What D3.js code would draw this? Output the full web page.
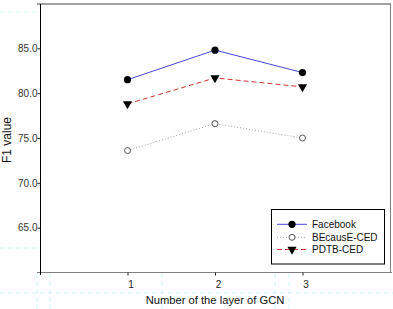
<!DOCTYPE html>
<html><head><meta charset="utf-8">
<script src="https://cdn.jsdelivr.net/npm/d3@7/dist/d3.min.js"></script>
<style>body{margin:0;background:#fff}svg{display:block}text{font-family:"Liberation Sans",Arial,sans-serif}</style>
</head><body><div id="c"></div>
<script>
const layers = [1, 2, 3];
const facebook = [81.5, 84.8, 82.3];
const because = [73.6, 76.6, 75.0];
const pdtb = [78.8, 81.7, 80.7];
const yTicks = [65, 70, 75, 80, 85];
const xTicks = [1, 2, 3];
const seriesNames = ["Facebook", "BEcausE-CED", "PDTB-CED"];

const W = 393, H = 309;
const svg = d3.select("#c").append("svg").attr("width", W).attr("height", H);

// faint ghost guide lines
const ghost = svg.append("g").attr("stroke", "#d4f3f6").attr("stroke-width", 1).attr("stroke-dasharray", "5,3");
[[0,12,37,12],[0,248,37,248],[0,293,393,293],[37,273,37,309],[50,273,50,309],[162,273,162,309],[275,273,275,309],[289,273,289,309]]
  .forEach(d => ghost.append("line").attr("x1", d[0]).attr("y1", d[1]).attr("x2", d[2]).attr("y2", d[3]));

const x = d3.scaleLinear().domain([0, 4]).range([40, 390]);
const y = d3.scaleLinear().domain([60, 90]).range([272.5, 3.5]);

// frame (top/right gray)
svg.append("line").attr("x1", 37).attr("x2", 391).attr("y1", 4).attr("y2", 4).attr("stroke", "#808080").attr("stroke-width", 1.5);
svg.append("line").attr("x1", 390.5).attr("x2", 390.5).attr("y1", 4).attr("y2", 273).attr("stroke", "#808080").attr("stroke-width", 1);

// x axis
const xa = svg.append("g").attr("transform", "translate(0,272.5)")
  .call(d3.axisBottom(x).tickValues(xTicks).tickSize(3).tickFormat(d3.format("d")));
xa.select(".domain").attr("stroke", "#808080").attr("d", "M37,0H392");
xa.selectAll(".tick line").attr("stroke", "#222");
xa.selectAll(".tick text").attr("font-size", 10).attr("fill", "#222").attr("dx", 3).attr("dy", "0.9em");

// y axis
const ya = svg.append("g").attr("transform", "translate(40.5,0)")
  .call(d3.axisLeft(y).tickValues(yTicks).tickSize(3).tickFormat(d3.format(".1f")));
ya.select(".domain").attr("stroke", "#000").attr("d", "M0,4V275");
ya.selectAll(".tick line").attr("stroke", "#222");
ya.selectAll(".tick text").attr("font-size", 10).attr("fill", "#333").attr("x", -3);

// titles
svg.append("text").attr("x", 215).attr("y", 304).attr("text-anchor", "middle").attr("font-size", 11.2).attr("fill", "#111").text("Number of the layer of GCN");
svg.append("text").attr("transform", "translate(11,140) rotate(-90)").attr("text-anchor", "middle").attr("font-size", 12).attr("fill", "#111").text("F1 value");

const line = d3.line().x((d, i) => x(layers[i])).y(d => y(d));
const styles = [
  {data: facebook, stroke: "#4646d8", dash: null, sym: "fcircle"},
  {data: because, stroke: "#a0a0a0", dash: "1,2", sym: "ocircle"},
  {data: pdtb, stroke: "#d03434", dash: "5,3", sym: "tri"}
];

function marker(g, type, cx, cy) {
  if (type === "fcircle") g.append("circle").attr("cx", cx).attr("cy", cy).attr("r", 3.6).attr("fill", "#000");
  else if (type === "ocircle") g.append("circle").attr("cx", cx).attr("cy", cy).attr("r", 3).attr("fill", "#fff").attr("stroke", "#555").attr("stroke-width", 1);
  else g.append("path").attr("d", d3.symbol(d3.symbolTriangle, 36)()).attr("transform", `translate(${cx},${cy}) rotate(180)`).attr("fill", "#000");
}

styles.forEach(s => {
  svg.append("path").datum(s.data).attr("d", line).attr("fill", "none").attr("stroke", s.stroke).attr("stroke-width", 1).attr("stroke-dasharray", s.dash);
  const g = svg.append("g");
  s.data.forEach((v, i) => marker(g, s.sym, x(layers[i]), y(v)));
});

// legend
const lg = svg.append("g");
lg.append("rect").attr("x", 271.5).attr("y", 209.5).attr("width", 113).attr("height", 54.5).attr("fill", "#fff").attr("stroke", "#000").attr("stroke-width", 1);
const ly = [224.3, 237.3, 249.5];
styles.forEach((s, i) => {
  lg.append("line").attr("x1", 277).attr("x2", 307).attr("y1", ly[i]).attr("y2", ly[i]).attr("stroke", s.stroke).attr("stroke-width", 1).attr("stroke-dasharray", s.dash);
  marker(lg, s.sym, 292, ly[i]);
  lg.append("text").attr("x", 312).attr("y", ly[i]).attr("dy", "0.35em").attr("font-size", 10).attr("fill", "#111").text(seriesNames[i]);
});
</script></body></html>
